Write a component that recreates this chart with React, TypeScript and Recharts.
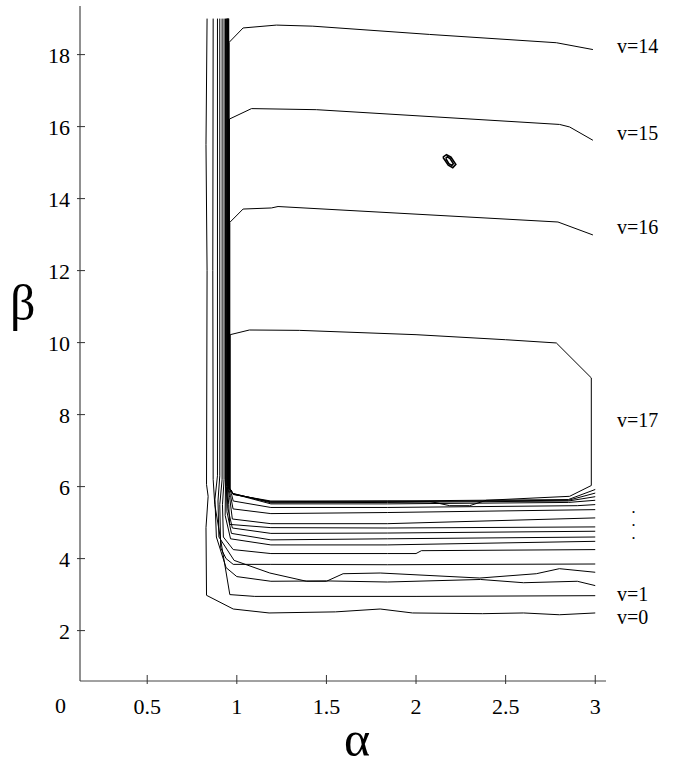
import { LineChart, Line, XAxis, YAxis } from "recharts";

type Pt = [number, number];

const xTicks = [0.5, 1, 1.5, 2, 2.5, 3];
const yTicks = [2, 4, 6, 8, 10, 12, 14, 16, 18];

// contour levels as (alpha, beta)
const v0: Pt[] = [
  [0.834, 19], [0.828, 15.5], [0.834, 12], [0.831, 6.06], [0.84, 5.73], [0.828, 4.86],
  [0.831, 2.98], [0.98, 2.6], [1.18, 2.49], [1.55, 2.52], [1.8, 2.6], [1.98, 2.49],
  [2.37, 2.47], [2.6, 2.49], [2.8, 2.44], [3.0, 2.49],
];
const v1: Pt[] = [
  [0.868, 19], [0.866, 12], [0.868, 6.2], [0.877, 5.5], [0.961, 3.0], [1.1, 2.95],
  [2.0, 2.95], [3.0, 2.97],
];
const v2: Pt[] = [
  [0.892, 19], [0.892, 6.3], [0.878, 5.65], [0.886, 4.6], [0.94, 3.75], [1.0, 3.5],
  [1.19, 3.37], [1.5, 3.38], [1.84, 3.35], [2.36, 3.42], [2.6, 3.33], [2.9, 3.37], [3.0, 3.25],
];
const v3: Pt[] = [
  [0.905, 19], [0.905, 6.3], [0.895, 5.6], [0.9, 4.6], [0.985, 3.95], [1.184, 3.6],
  [1.389, 3.37], [1.5, 3.37], [1.593, 3.58], [1.8, 3.6], [2.356, 3.46], [2.671, 3.58],
  [2.8, 3.72], [3.0, 3.62],
];
const v4: Pt[] = [
  [0.918, 19], [0.918, 6.2], [0.905, 5.5], [0.91, 4.3], [0.94, 4.0], [0.98, 3.84],
  [1.19, 3.84], [1.84, 3.83], [3.0, 3.85],
];
const v5: Pt[] = [
  [0.929, 19], [0.929, 6.2], [0.92, 5.5], [0.925, 4.6], [0.98, 4.25], [1.19, 4.14],
  [1.84, 4.14], [2.0, 4.14], [2.03, 4.22], [3.0, 4.25],
];
const v6: Pt[] = [
  [0.937, 19], [0.937, 6.1], [0.935, 5.2], [0.965, 4.55], [1.19, 4.38], [1.84, 4.38], [3.0, 4.48],
];
const v7: Pt[] = [
  [0.942, 19], [0.942, 6.0], [0.945, 5.3], [0.97, 4.7], [1.19, 4.52], [1.84, 4.55], [3.0, 4.6],
];
const v8: Pt[] = [
  [0.945, 19], [0.945, 6.0], [0.95, 5.4], [0.975, 4.85], [1.19, 4.7], [1.84, 4.71], [3.0, 4.76],
];
const v9: Pt[] = [
  [0.947, 19], [0.947, 6.0], [0.955, 5.5], [0.96, 4.95], [1.19, 4.86], [1.84, 4.85], [3.0, 4.88],
];
const v10: Pt[] = [
  [0.949, 19], [0.949, 6.0], [0.96, 5.7], [0.975, 5.1], [1.19, 4.97], [1.84, 4.97], [3.0, 5.13],
];
const v11: Pt[] = [
  [0.951, 19], [0.951, 6.0], [0.965, 5.75], [0.979, 5.38], [1.19, 5.25], [1.84, 5.28], [3.0, 5.36],
];
const v12: Pt[] = [
  [0.953, 19], [0.953, 6.0], [0.97, 5.8], [0.98, 5.6], [1.19, 5.42], [1.84, 5.42], [2.9, 5.47], [3.0, 5.5],
];
const v13: Pt[] = [
  [0.955, 19], [0.955, 5.98], [0.979, 5.8], [1.19, 5.52], [1.84, 5.52], [2.85, 5.56], [3.0, 5.62],
];
const v14: Pt[] = [
  [2.987, 18.14], [2.783, 18.33], [2.076, 18.56], [1.424, 18.79], [1.221, 18.82], [1.035, 18.74],
  [0.957, 18.34], [0.957, 5.97], [0.979, 5.81], [1.19, 5.55], [1.84, 5.56], [2.85, 5.6], [3.0, 5.72],
];
const v15: Pt[] = [
  [2.987, 15.62], [2.857, 15.99], [2.801, 16.06], [1.444, 16.47], [1.082, 16.5], [0.959, 16.21],
  [0.959, 5.96], [0.979, 5.8], [1.19, 5.57], [1.84, 5.58], [2.85, 5.62], [3.0, 5.82],
];
const v16: Pt[] = [
  [2.987, 12.99], [2.792, 13.35], [1.23, 13.78], [1.193, 13.74], [1.035, 13.71], [0.961, 13.34],
  [0.961, 5.95], [0.98, 5.79], [1.19, 5.58], [1.84, 5.6], [2.85, 5.64], [3.0, 5.92],
];
const v17: Pt[] = [
  [0.963, 10.22], [1.07, 10.35], [1.35, 10.34], [2.0, 10.22], [2.5, 10.08], [2.783, 9.99],
  [2.978, 9.02], [2.978, 6.03], [2.857, 5.73], [2.393, 5.62], [2.299, 5.47], [2.188, 5.47],
  [2.076, 5.59], [1.84, 5.6], [1.19, 5.6], [0.98, 5.78], [0.963, 5.94], [0.963, 10.22],
];
const islandOuter: Pt[] = [
  [2.15, 15.15], [2.17, 15.22], [2.195, 15.15], [2.222, 14.95], [2.205, 14.86], [2.18, 14.93], [2.15, 15.15],
];
const islandInner: Pt[] = [
  [2.165, 15.12], [2.175, 15.16], [2.19, 15.11], [2.208, 14.97], [2.2, 14.92], [2.183, 14.97], [2.165, 15.12],
];

const contours = [v0, v1, v2, v3, v4, v5, v6, v7, v8, v9, v10, v11, v12, v13, v14, v15, v16, v17, islandOuter, islandInner];

const serif = '"Liberation Serif", "Times New Roman", serif';

const XTick = (props: any) => {
  const { x, y, payload } = props;
  return (
    <g>
      <line x1={x} x2={x} y1={y + 3} y2={y - 6} stroke="#333" />
      <text x={x} y={y + 33} textAnchor="middle" style={{ fontFamily: serif, fontSize: 22 }} fill="#000">
        {payload.value}
      </text>
    </g>
  );
};

const YTick = (props: any) => {
  const { x, y, payload } = props;
  return (
    <g>
      <line x1={x - 3} x2={x + 5} y1={y} y2={y} stroke="#333" />
      <text x={x - 10} y={y + 8} textAnchor="end" style={{ fontFamily: serif, fontSize: 22 }} fill="#000">
        {payload.value}
      </text>
    </g>
  );
};

const lab = (top: number, left: number, size = 20): React.CSSProperties => ({
  position: "absolute",
  top,
  left,
  fontFamily: serif,
  fontSize: size,
  lineHeight: `${size}px`,
  color: "#000",
  whiteSpace: "nowrap",
});

const dot = (top: number): React.CSSProperties => ({
  position: "absolute",
  top,
  left: 632,
  fontFamily: serif,
  fontSize: 12,
  fontWeight: "bold",
  lineHeight: "12px",
  height: 12,
  color: "#000",
});

export default function App() {
  return (
    <div
      style={{
        position: "absolute",
        left: 0,
        top: 0,
        width: 675,
        height: 769,
        background: "#fff",
        fontFamily: serif,
        overflow: "hidden",
      }}
    >
      <LineChart width={675} height={769} margin={{ top: 6, right: 69, bottom: 48, left: 0 }}>
        <XAxis
          type="number"
          dataKey="a"
          domain={[0.125, 3.06]}
          allowDataOverflow
          ticks={xTicks}
          height={40}
          tickSize={0}
          tickMargin={0}
          tickLine={false}
          tick={<XTick />}
          stroke="#444"
        />
        <YAxis
          type="number"
          dataKey="b"
          domain={[0.6, 19.35]}
          allowDataOverflow
          ticks={yTicks}
          width={80}
          tickSize={0}
          tickMargin={0}
          tickLine={false}
          tick={<YTick />}
          stroke="#222"
        />
        {contours.map((c, i) => (
          <Line
            key={i}
            data={c.map(([a, b]) => ({ a, b }))}
            dataKey="b"
            type="linear"
            stroke="#000"
            strokeWidth={i >= 18 ? 1.6 : 1}
            dot={false}
            activeDot={false}
            isAnimationActive={false}
          />
        ))}
      </LineChart>
      <div style={lab(695, 55, 22)}>0</div>
      <div style={lab(714, 344, 50)}>α</div>
      <div style={lab(278, 10, 50)}>β</div>
      <div style={lab(36, 617)}>v=14</div>
      <div style={lab(123, 617)}>v=15</div>
      <div style={lab(217, 617)}>v=16</div>
      <div style={lab(410, 617)}>v=17</div>
      <div style={dot(503)}>.</div>
      <div style={dot(516)}>.</div>
      <div style={dot(529)}>.</div>
      <div style={lab(584, 617)}>v=1</div>
      <div style={lab(607, 617)}>v=0</div>
    </div>
  );
}
